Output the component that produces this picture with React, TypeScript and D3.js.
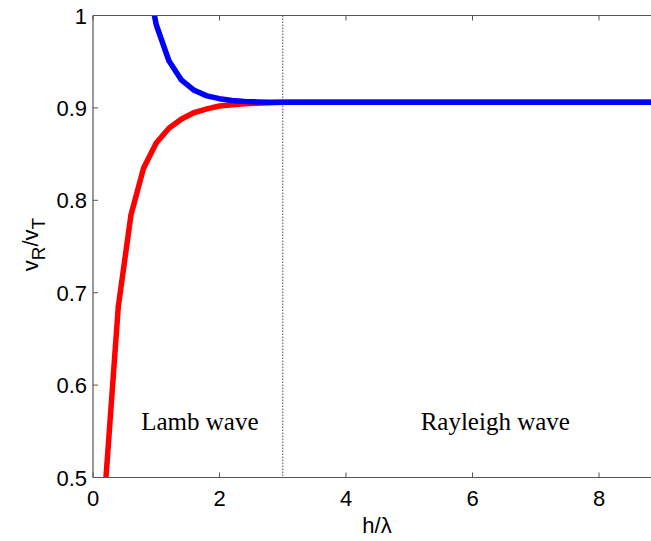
import React from "react";
import * as d3 from "d3";

const redX = [0.2, 0.4, 0.6, 0.8, 1.0, 1.2, 1.4, 1.6, 1.8, 2.0, 2.2, 2.4, 2.6, 2.8, 3.0, 4, 6, 8, 10];
const redY = [0.495, 0.685, 0.784, 0.835, 0.862, 0.878, 0.888, 0.895, 0.899, 0.902, 0.9035, 0.9045, 0.905, 0.9055, 0.906, 0.906, 0.906, 0.906, 0.906];
const blueX = [0.8, 1.0, 1.2, 1.4, 1.6, 1.8, 2.0, 2.2, 2.4, 2.6, 2.8, 3.0, 4, 6, 8, 10];
const blueY = [1.06, 0.99, 0.951, 0.93, 0.919, 0.913, 0.91, 0.908, 0.907, 0.9065, 0.906, 0.906, 0.906, 0.906, 0.906, 0.906];
const xTicks = [0, 2, 4, 6, 8];
const yTicks = [0.5, 0.6, 0.7, 0.8, 0.9, 1];
const boundaryX = 3;
const regionLabels = [
  { text: "Lamb wave", x: 1.69 },
  { text: "Rayleigh wave", x: 6.36 },
];

export default function App() {
  const W = 651, H = 541;
  const left = 93, top = 15.5, bottom = 477.5;
  const unit = 63.25;
  const x = d3.scaleLinear().domain([0, 10]).range([left, left + 10 * unit]);
  const y = d3.scaleLinear().domain([0.5, 1]).range([bottom, top]);
  const line = d3.line<[number, number]>().x(d => x(d[0])).y(d => y(d[1]));
  const red = line(redX.map((v, i) => [v, redY[i]] as [number, number]))!;
  const blue = line(blueX.map((v, i) => [v, blueY[i]] as [number, number]))!;
  const axisColor = "#555";
  const font = "'Liberation Sans', Arial, sans-serif";
  return (
    <svg width={W} height={H} style={{ position: "absolute", left: 0, top: 0 }}>
      <rect width={W} height={H} fill="white" />
      <defs>
        <clipPath id="plot">
          <rect x={left} y={top} width={W - left} height={bottom - top} />
        </clipPath>
      </defs>
      <line x1={x(boundaryX)} x2={x(boundaryX)} y1={top} y2={bottom} stroke="#222" strokeWidth={0.8} strokeDasharray="1.5,1.5" />
      <g clipPath="url(#plot)">
        <path d={red} fill="none" stroke="#ff0000" strokeWidth={5.5} strokeLinejoin="round" />
        <path d={blue} fill="none" stroke="#0000ff" strokeWidth={5.5} strokeLinejoin="round" />
      </g>
      <line x1={left} x2={W} y1={top} y2={top} stroke={axisColor} strokeWidth={1.2} />
      <line x1={left} x2={W} y1={bottom} y2={bottom} stroke={axisColor} strokeWidth={1.2} />
      <line x1={left} x2={left} y1={top} y2={bottom} stroke={axisColor} strokeWidth={1.2} />
      {xTicks.map(t => (
        <g key={"x" + t}>
          <line x1={x(t)} x2={x(t)} y1={bottom} y2={bottom - 5} stroke={axisColor} strokeWidth={1} />
          <line x1={x(t)} x2={x(t)} y1={top} y2={top + 5} stroke={axisColor} strokeWidth={1} />
          <text x={x(t)} y={506} textAnchor="middle" fontFamily={font} fontSize={22} fill="#000">{t}</text>
        </g>
      ))}
      {yTicks.map(t => (
        <g key={"y" + t}>
          <line x1={left} x2={left + 5} y1={y(t)} y2={y(t)} stroke={axisColor} strokeWidth={1} />
          <text x={87} y={y(t) + 8} textAnchor="end" fontFamily={font} fontSize={22} fill="#000">{String(t)}</text>
        </g>
      ))}
      <text x={377} y={533} textAnchor="middle" fontFamily={font} fontSize={22} fill="#000">h/λ</text>
      <text transform={`translate(38,${(top + bottom) / 2 - 2}) rotate(-90)`} textAnchor="middle" fontFamily={font} fontSize={22} fill="#000">
        <tspan>v</tspan>
        <tspan fontSize={19} dy={7}>R</tspan>
        <tspan dy={-7}>/v</tspan>
        <tspan fontSize={19} dy={7}>T</tspan>
      </text>
      {regionLabels.map(r => (
        <text key={r.text} x={x(r.x)} y={430} textAnchor="middle" fontFamily="'Liberation Serif', 'Times New Roman', serif" fontSize={25} fill="#000">{r.text}</text>
      ))}
    </svg>
  );
}
